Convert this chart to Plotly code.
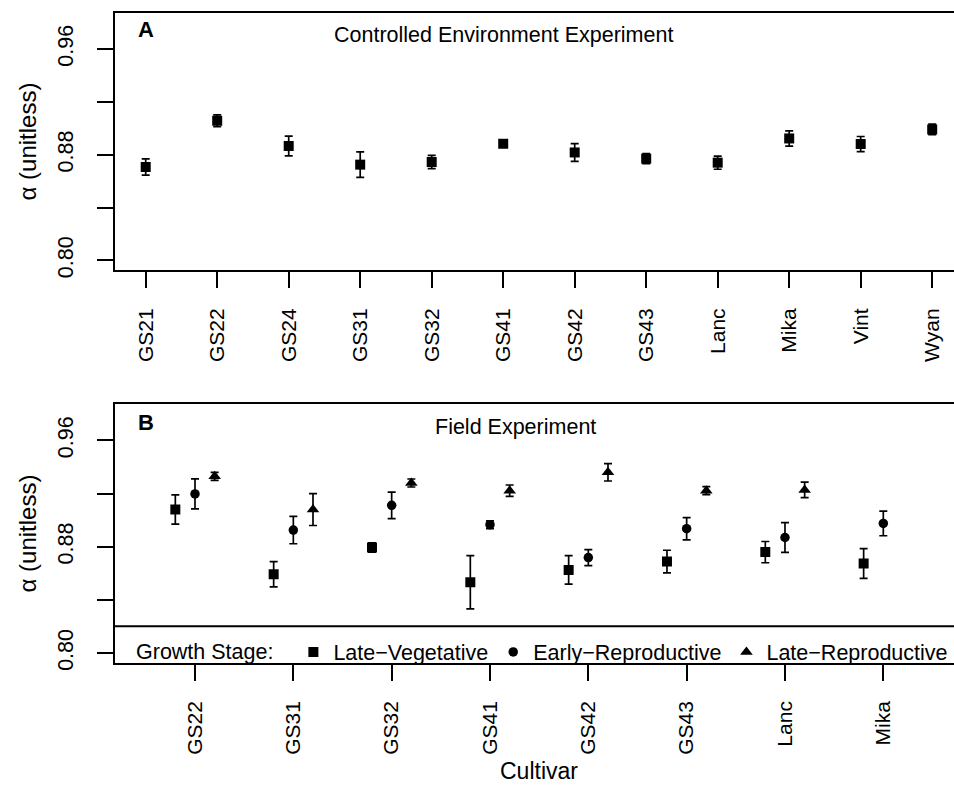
import numpy as np
import plotly.graph_objects as go

W, H = 954, 785
FONT = "Liberation Sans, Arial, Helvetica, sans-serif"
FS = 21.5

# Panel A: controlled environment experiment (mean alpha +/- error per cultivar)
cultivars_a = ["GS21", "GS22", "GS24", "GS31", "GS32", "GS41",
               "GS42", "GS43", "Lanc", "Mika", "Vint", "Wyan"]
alpha_a = [0.8707, 0.9057, 0.8866, 0.8725, 0.8745, 0.8883,
           0.8817, 0.8770, 0.8740, 0.8923, 0.8881, 0.8991]
err_a = [0.0062, 0.0044, 0.0075, 0.0097, 0.0050, 0.0020,
         0.0067, 0.0038, 0.0050, 0.0058, 0.0057, 0.0040]

# Panel B: field experiment, three growth stages per cultivar
cultivars_b = ["GS22", "GS31", "GS32", "GS41", "GS42", "GS43", "Lanc", "Mika"]
late_veg = [0.9080, 0.8594, 0.8795, 0.8533, 0.8626, 0.8689, 0.8760, 0.8674]
late_veg_err = [0.0110, 0.0095, 0.0035, 0.0200, 0.0107, 0.0085, 0.0080, 0.0112]
early_rep = [0.9198, 0.8926, 0.9112, 0.8966, 0.8719, 0.8936, 0.8870, 0.8976]
early_rep_err = [0.0113, 0.0103, 0.0100, 0.0030, 0.0060, 0.0084, 0.0112, 0.0093]
late_rep = [0.9330, 0.9080, 0.9280, 0.9222, 0.9360, 0.9222, 0.9228, None]
late_rep_err = [0.0030, 0.0120, 0.0030, 0.0043, 0.0065, 0.0030, 0.0058, None]

stages = ["Late\u2212Vegetative", "Early\u2212Reproductive", "Late\u2212Reproductive"]
y_ticks = [0.80, 0.84, 0.88, 0.92, 0.96]
y_ticktext = ["0.80", "", "0.88", "", "0.96"]
y_range = [0.7928, 0.9872]


def px_x(p):
    return p / W


def px_y(p):
    return 1 - p / H


fig = go.Figure()

xa = np.arange(1, len(cultivars_a) + 1)
fig.add_trace(go.Scatter(
    x=xa, y=alpha_a, mode="markers", showlegend=False,
    marker=dict(symbol="square", size=10, color="black"),
    error_y=dict(type="data", array=err_a, color="black", thickness=1.7, width=4),
    xaxis="x", yaxis="y",
))

xb = np.arange(1, len(cultivars_b) + 1)
offsets = [-0.2, 0.0, 0.2]
symbols = ["square", "circle", "triangle-up"]
sizes = [10, 9.5, 11]
for name, vals, errs, off, sym, sz in zip(
        stages, [late_veg, early_rep, late_rep],
        [late_veg_err, early_rep_err, late_rep_err], offsets, symbols, sizes):
    fig.add_trace(go.Scatter(
        x=xb + off, y=vals, mode="markers", name=name,
        marker=dict(symbol=sym, size=sz, color="black"),
        error_y=dict(type="data", array=errs, color="black", thickness=1.7, width=4),
        xaxis="x2", yaxis="y2",
    ))

common_x = dict(
    showline=True, mirror=True, linecolor="black", linewidth=2,
    ticks="outside", ticklen=16, tickwidth=1.5, tickcolor="black",
    tickangle=-90, tickfont=dict(family=FONT, size=21, color="black"),
    showgrid=False, zeroline=False, ticklabelstandoff=12,
)
common_y = dict(
    range=y_range, tickvals=y_ticks, ticktext=y_ticktext,
    showline=True, mirror=False, linecolor="black", linewidth=2,
    ticks="outside", ticklen=16, tickwidth=1.5, tickcolor="black",
    tickangle=-90, tickfont=dict(family=FONT, size=21.5, color="black"),
    showgrid=False, zeroline=False, ticklabelstandoff=15,
)

# pixel geometry of the two panels
a_left, a_unit, a_first = 115.0, 71.5, 145.7
b_left, b_unit, b_first = 115.0, 98.33, 195.0
a_range = [1 - (a_first - a_left) / a_unit, len(cultivars_a) + (W - (a_first + (len(cultivars_a) - 1) * a_unit)) / a_unit]
b_range = [1 - (b_first - b_left) / b_unit, len(cultivars_b) + (W - (b_first + (len(cultivars_b) - 1) * b_unit)) / b_unit]

fig.update_layout(
    width=W, height=H,
    margin=dict(l=0, r=0, t=0, b=0, autoexpand=False),
    paper_bgcolor="white", plot_bgcolor="white",
    font=dict(family=FONT, size=FS, color="black"),
    xaxis=dict(domain=[px_x(a_left), 1.0], range=a_range,
               tickvals=list(xa), ticktext=cultivars_a, anchor="y", **common_x),
    yaxis=dict(domain=[px_y(270), px_y(13)], anchor="x", **common_y),
    xaxis2=dict(domain=[px_x(b_left), 1.0], range=b_range,
                tickvals=list(xb), ticktext=cultivars_b, anchor="y2", **common_x),
    yaxis2=dict(domain=[px_y(662.7), px_y(404.3)], anchor="x2", **common_y),
    showlegend=True,
    legend=dict(
        orientation="h", x=px_x(134), xanchor="left", y=px_y(652), yanchor="middle",
        bgcolor="rgba(0,0,0,0)", borderwidth=0,
        title=dict(text="Growth Stage:\u00a0\u00a0", side="left",
                   font=dict(family=FONT, size=FS, color="black")),
        font=dict(family=FONT, size=FS, color="black"),
        itemsizing="trace",
    ),
    shapes=[
        dict(type="line", xref="paper", yref="paper",
             x0=px_x(b_left), x1=1.0, y0=px_y(626.3), y1=px_y(626.3),
             line=dict(color="black", width=2)),
    ],
)

ann = [
    dict(text="<b>A</b>", x=px_x(146), y=px_y(30), size=22),
    dict(text="Controlled Environment Experiment", x=px_x(503.5), y=px_y(35.5), size=FS),
    dict(text="<b>B</b>", x=px_x(146), y=px_y(422), size=22),
    dict(text="Field Experiment", x=px_x(515), y=px_y(427), size=FS),
]
for a in ann:
    fig.add_annotation(text=a["text"], x=a["x"], y=a["y"], xref="paper", yref="paper",
                       xanchor="center", yanchor="middle", showarrow=False,
                       font=dict(family=FONT, size=a["size"], color="black"))

# x-axis title sits flush with the bottom edge of the page
fig.add_annotation(text="Cultivar", x=px_x(539), y=0, xref="paper", yref="paper",
                   xanchor="center", yanchor="bottom", showarrow=False, borderpad=0,
                   font=dict(family=FONT, size=23, color="black"))

for yc in (141.5, 533.5):
    fig.add_annotation(text="\u03b1 (unitless)", x=px_x(27), y=px_y(yc), xref="paper", yref="paper",
                       xanchor="center", yanchor="middle", showarrow=False, textangle=-90,
                       font=dict(family=FONT, size=24, color="black"))

fig.write_html("out.html")
